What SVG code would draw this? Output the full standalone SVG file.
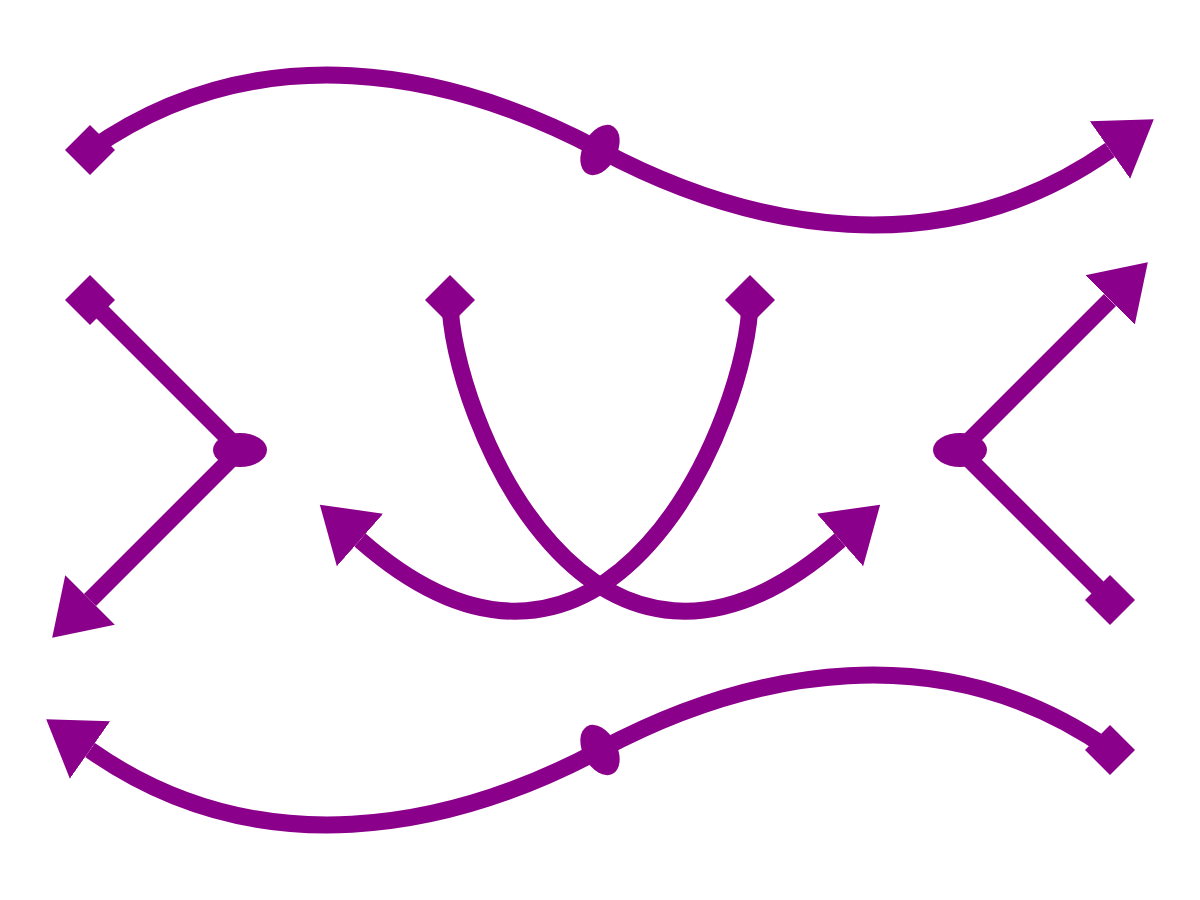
<svg xmlns="http://www.w3.org/2000/svg" width="1200" height="900" viewBox="0 0 1200 900">
  <style>
    .conn { fill: none; stroke: #8B008B; stroke-width: 17; marker-start: url(#diamond); marker-end: url(#arrow); }
    .mid { marker-mid: url(#oval); }
    .mk { fill: #8B008B; stroke: none; }
  </style>
  <defs>
    <marker id="arrow" markerUnits="userSpaceOnUse" viewBox="0 -40 60 80" markerWidth="60" markerHeight="80" refX="0" refY="0" orient="auto">
      <path class="mk" d="M0,-35 L53.5,0 L0,35 Z"/>
    </marker>
    <marker id="diamond" markerUnits="userSpaceOnUse" viewBox="-30 -30 60 60" markerWidth="60" markerHeight="60" refX="0" refY="0" orient="0">
      <path class="mk" d="M-25,0 L0,-25 L25,0 L0,25 Z"/>
    </marker>
    <marker id="oval" markerUnits="userSpaceOnUse" viewBox="-30 -30 60 60" markerWidth="60" markerHeight="60" refX="0" refY="0" orient="auto">
      <ellipse class="mk" cx="0" cy="0" rx="17" ry="27"/>
    </marker>
  </defs>
  <rect width="1200" height="900" fill="#ffffff"/>
  <g id="connectors">
    <path id="top-wave" class="conn mid" d="M90,150 C258,32 450,70 600,150 S942,268 1110,150"/>
    <path id="left-chevron" class="conn mid" d="M90,300 L240,450 L90,600"/>
    <path id="center-curve-a" class="conn" d="M450,300 C450,410 590,760 840,540"/>
    <path id="center-curve-b" class="conn" d="M750,300 C750,410 610,760 360,540"/>
    <path id="right-chevron" class="conn mid" d="M1110,600 L960,450 L1110,300"/>
    <path id="bottom-wave" class="conn mid" d="M1110,750 C942,632 750,670 600,750 S258,868 90,750"/>
  </g>
</svg>
